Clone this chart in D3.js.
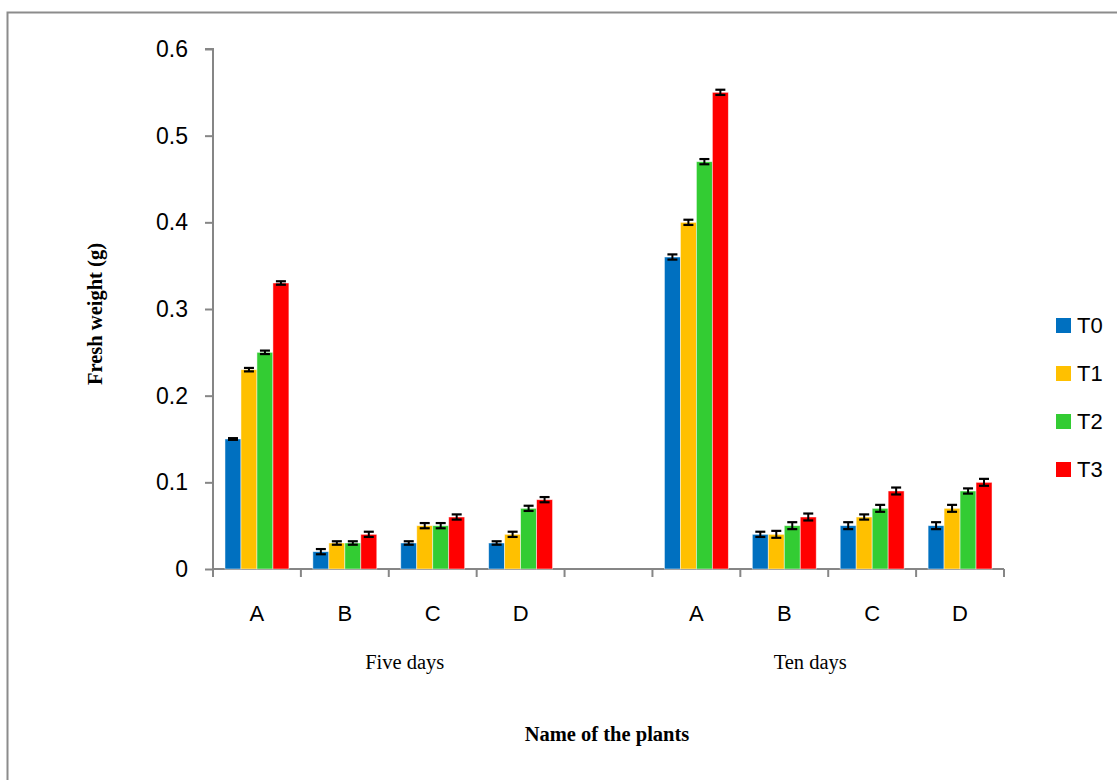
<!DOCTYPE html>
<html>
<head>
<meta charset="utf-8">
<script src="https://cdn.jsdelivr.net/npm/d3@7"></script>
<style>
  body { margin: 0; background: #fff; }
  svg { display: block; }
</style>
</head>
<body>
<div id="vis"></div>
<script>
// Fresh weight grouped bar chart

const periods = ["Five days", "Ten days"];
const plants = ["A", "B", "C", "D"];
const series = ["T0", "T1", "T2", "T3"];
const colors = ["#0070C0", "#FFC000", "#33CC33", "#FF0000"];
const yTicks = [0, 0.1, 0.2, 0.3, 0.4, 0.5, 0.6];

// values per plant = [T0, T1, T2, T3]
const fiveDays = [
  [0.15, 0.23, 0.25, 0.33],
  [0.02, 0.03, 0.03, 0.04],
  [0.03, 0.05, 0.05, 0.06],
  [0.03, 0.04, 0.07, 0.08]
];
const tenDays = [
  [0.36, 0.40, 0.47, 0.55],
  [0.04, 0.04, 0.05, 0.06],
  [0.05, 0.06, 0.07, 0.09],
  [0.05, 0.07, 0.09, 0.10]
];
const fiveErr = [
  [0.001, 0.002, 0.002, 0.002],
  [0.003, 0.002, 0.002, 0.003],
  [0.002, 0.003, 0.003, 0.003],
  [0.002, 0.003, 0.003, 0.003]
];
const tenErr = [
  [0.003, 0.003, 0.003, 0.003],
  [0.003, 0.004, 0.004, 0.004],
  [0.004, 0.003, 0.004, 0.004],
  [0.004, 0.004, 0.003, 0.004]
];

const width = 1117;
const height = 780;
const margin = { top: 49, right: 113, bottom: 210, left: 213 };

const svg = d3.select("#vis")
  .append("svg")
  .attr("width", width)
  .attr("height", height);

// outer frame
svg.append("rect")
  .attr("x", 7.5).attr("y", 12.5)
  .attr("width", width + 20).attr("height", height + 20)
  .attr("fill", "none")
  .attr("stroke", "#8c8c8c")
  .attr("stroke-width", 2);

// category keys: 4 plants, a blank slot, 4 plants
const catKeys = [];
plants.forEach(p => catKeys.push("Five|" + p));
catKeys.push("gap");
plants.forEach(p => catKeys.push("Ten|" + p));

const rows = [];
plants.forEach((p, i) => rows.push({ key: "Five|" + p, plant: p, vals: fiveDays[i], errs: fiveErr[i] }));
plants.forEach((p, i) => rows.push({ key: "Ten|" + p, plant: p, vals: tenDays[i], errs: tenErr[i] }));

const xScale = d3.scaleBand()
  .domain(catKeys)
  .range([margin.left, width - margin.right])
  .padding(0);

const xInner = d3.scaleBand()
  .domain(series)
  .range([0, xScale.bandwidth()])
  .paddingInner(0)
  .paddingOuter(0.75);

const yScale = d3.scaleLinear()
  .domain([0, 0.6])
  .range([height - margin.bottom - 1, margin.top]);

const axisColor = "#868686";
const sansFont = "'Liberation Sans Narrow', 'Arial Narrow', 'Liberation Sans', sans-serif";
const serifFont = "'Liberation Serif', 'Times New Roman', serif";

// Y axis
const yAxis = svg.append("g")
  .attr("transform", `translate(${margin.left},0)`)
  .call(d3.axisLeft(yScale).tickValues(yTicks).tickSize(8).tickPadding(17)
    .tickFormat(d => d === 0 ? "0" : d3.format(".1f")(d)));
yAxis.selectAll("path, line").attr("stroke", axisColor).attr("stroke-width", 2);
yAxis.select(".domain").attr("d", `M-8,${yScale(0.6)}H0V${yScale(0)}`);
yAxis.selectAll("text")
  .attr("fill", "#000")
  .style("font-family", sansFont)
  .style("font-size", "23px");

// X axis line with boundary ticks
const xAxis = svg.append("g");
xAxis.append("line")
  .attr("x1", xScale.range()[0]).attr("x2", xScale.range()[1])
  .attr("y1", yScale(0)).attr("y2", yScale(0))
  .attr("stroke", axisColor).attr("stroke-width", 2);
const bounds = catKeys.map(k => xScale(k)).concat([xScale.range()[1]]);
xAxis.selectAll(".btick")
  .data(bounds)
  .enter().append("line")
  .attr("class", "btick")
  .attr("x1", d => d).attr("x2", d => d)
  .attr("y1", yScale(0)).attr("y2", yScale(0) + 8)
  .attr("stroke", axisColor).attr("stroke-width", 2);

// plant labels
xAxis.selectAll(".plabel")
  .data(rows)
  .enter().append("text")
  .attr("class", "plabel")
  .attr("x", d => xScale(d.key) + xScale.bandwidth() / 2)
  .attr("y", yScale(0) + 52)
  .attr("text-anchor", "middle")
  .style("font-family", sansFont)
  .style("font-size", "22px")
  .attr("fill", "#000")
  .text(d => d.plant);

// period labels
const periodPos = [
  xScale("Five|C") + 16,
  xScale("Ten|C") - 18
];
periods.forEach((p, i) => {
  svg.append("text")
    .attr("x", periodPos[i])
    .attr("y", yScale(0) + 100)
    .attr("text-anchor", "middle")
    .style("font-family", serifFont)
    .style("font-size", "20.5px")
    .attr("fill", "#000")
    .text(p);
});

// axis titles
svg.append("text")
  .attr("x", 607)
  .attr("y", 741)
  .attr("text-anchor", "middle")
  .style("font-family", serifFont)
  .style("font-size", "20.5px")
  .style("font-weight", "bold")
  .text("Name of the plants");

svg.append("text")
  .attr("transform", `translate(102,${(yScale(0) + yScale(0.6)) / 2 + 5}) rotate(-90)`)
  .attr("text-anchor", "middle")
  .style("font-family", serifFont)
  .style("font-size", "20.5px")
  .style("font-weight", "bold")
  .text("Fresh weight (g)");

// Bars
const groups = svg.selectAll(".cat")
  .data(rows)
  .enter().append("g")
  .attr("class", "cat")
  .attr("transform", d => `translate(${xScale(d.key)},0)`);

groups.selectAll("rect")
  .data(d => d.vals.map((v, i) => ({ s: series[i], v: v, e: d.errs[i], c: colors[i] })))
  .enter().append("rect")
  .attr("x", d => xInner(d.s))
  .attr("y", d => yScale(d.v))
  .attr("width", xInner.bandwidth())
  .attr("height", d => yScale(0) - yScale(d.v))
  .attr("fill", d => d.c)
  .attr("stroke", "#ffffff")
  .attr("stroke-opacity", 0.6)
  .attr("stroke-width", 0.8);

// Error bars
const errG = groups.selectAll(".err")
  .data(d => d.vals.map((v, i) => ({ s: series[i], v: v, e: d.errs[i] })))
  .enter().append("g")
  .attr("class", "err")
  .attr("transform", d => `translate(${xInner(d.s) + xInner.bandwidth() / 2},0)`);

errG.append("line")
  .attr("x1", 0).attr("x2", 0)
  .attr("y1", d => yScale(d.v - d.e)).attr("y2", d => yScale(d.v + d.e))
  .attr("stroke", "#000").attr("stroke-width", 2);
errG.append("line")
  .attr("x1", -5).attr("x2", 5)
  .attr("y1", d => yScale(d.v + d.e)).attr("y2", d => yScale(d.v + d.e))
  .attr("stroke", "#000").attr("stroke-width", 2.2);
errG.append("line")
  .attr("x1", -5).attr("x2", 5)
  .attr("y1", d => yScale(d.v - d.e)).attr("y2", d => yScale(d.v - d.e))
  .attr("stroke", "#000").attr("stroke-width", 2.2);

// Legend
const legend = svg.append("g")
  .attr("transform", "translate(1056,318)");

series.forEach((s, i) => {
  const yPos = i * 48;
  legend.append("rect")
    .attr("x", 0).attr("y", yPos)
    .attr("width", 15).attr("height", 15)
    .attr("fill", colors[i]);
  legend.append("text")
    .attr("x", 21).attr("y", yPos + 15)
    .style("font-family", sansFont)
    .style("font-size", "22px")
    .attr("fill", "#000")
    .text(s);
});
</script>
</body>
</html>
